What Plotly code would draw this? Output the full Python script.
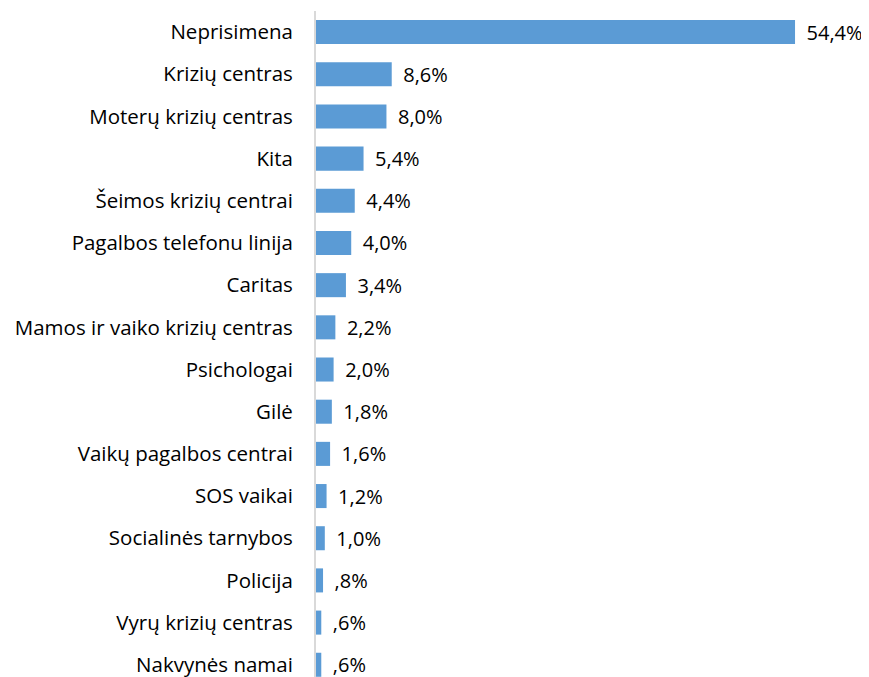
import plotly.graph_objects as go

categories = [
    "Neprisimena", "Krizių centras", "Moterų krizių centras", "Kita",
    "Šeimos krizių centrai", "Pagalbos telefonu linija", "Caritas",
    "Mamos ir vaiko krizių centras", "Psichologai", "Gilė",
    "Vaikų pagalbos centrai", "SOS vaikai", "Socialinės tarnybos",
    "Policija", "Vyrų krizių centras", "Nakvynės namai",
]
values = [54.4, 8.6, 8.0, 5.4, 4.4, 4.0, 3.4, 2.2, 2.0, 1.8, 1.6, 1.2, 1.0, 0.8, 0.6, 0.6]
value_labels = ["54,4%", "8,6%", "8,0%", "5,4%", "4,4%", "4,0%", "3,4%", "2,2%",
                "2,0%", "1,8%", "1,6%", "1,2%", "1,0%", ",8%", ",6%", ",6%"]

FONT = "'Open Sans', sans-serif"

fig = go.Figure(go.Bar(
    x=values,
    y=categories,
    orientation="h",
    marker=dict(color="#5B9BD5", line=dict(width=0)),
    text=["\u00a0\u2009" + t for t in value_labels],
    textposition="outside",
    constraintext="none",
    textfont=dict(family=FONT, size=20, color="#000000"),
    cliponaxis=False,
    width=0.57,
))

# page body has an 8px margin, so the figure is shrunk to fit the window
fig.update_layout(
    width=861,
    height=669,
    margin=dict(l=308, r=0, t=3, b=0),
    paper_bgcolor="white",
    plot_bgcolor="white",
    showlegend=False,
    font=dict(family=FONT, size=20, color="#000000"),
    xaxis=dict(range=[0, 62.8], visible=False, showgrid=False, zeroline=False),
    yaxis=dict(
        type="category",
        categoryorder="array",
        categoryarray=categories,
        range=[15.29, -0.5],
        showline=True,
        linecolor="#D9D9D9",
        linewidth=2,
        ticks="",
        ticklabelstandoff=17,
        tickfont=dict(family=FONT, size=20.5, color="#000000"),
        showgrid=False,
    ),
)

fig.write_html("out.html")
